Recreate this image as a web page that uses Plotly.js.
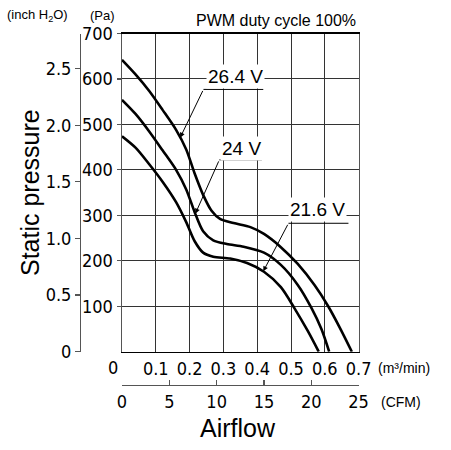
<!DOCTYPE html>
<html>
<head>
<meta charset="utf-8">
<script src="https://cdn.plot.ly/plotly-3.0.1.min.js"></script>
<style>
  html, body { margin: 0; padding: 0; background: #fff; }
  #chart { width: 451px; height: 450px; }
</style>
</head>
<body>
<div id="chart"></div>
<script>
// P-Q curves (airflow in m³/min, static pressure in Pa) at three supply voltages
const flow264 = [0, 0.04, 0.08, 0.12, 0.16, 0.19, 0.215, 0.24, 0.265, 0.29, 0.33, 0.38, 0.42, 0.47, 0.52, 0.57, 0.61, 0.645, 0.68];
const pa264   = [642, 610, 574, 532, 488, 445, 392, 345, 310, 292, 283, 274, 259, 230, 193, 146, 100, 52, 0];

const flow240 = [0, 0.04, 0.08, 0.12, 0.16, 0.19, 0.215, 0.24, 0.27, 0.31, 0.36, 0.42, 0.47, 0.52, 0.56, 0.59, 0.613];
const pa240   = [554, 523, 485, 443, 400, 357, 307, 265, 245, 237, 231, 218, 191, 147, 97, 50, 0];

const flow216 = [0, 0.04, 0.08, 0.12, 0.16, 0.19, 0.215, 0.24, 0.27, 0.32, 0.37, 0.42, 0.47, 0.51, 0.55, 0.582];
const pa216   = [474, 449, 413, 374, 329, 285, 243, 218, 209, 205, 195, 176, 142, 96, 45, 0];

const seriesNames = ['26.4 V', '24 V', '21.6 V'];
const seriesFlow = [flow264, flow240, flow216];
const seriesPa = [pa264, pa240, pa216];

// axis ticks
const paTicks = [100, 200, 300, 400, 500, 600, 700];
const inchTicks = [0, 0.5, 1.0, 1.5, 2.0, 2.5];
const inchTickText = ['0', '0.5', '1.0', '1.5', '2.0', '2.5'];
const flowTicks = [0.1, 0.2, 0.3, 0.4, 0.5, 0.6, 0.7];
const cfmTicks = [0, 5, 10, 15, 20, 25];

const PA_PER_INCH = 249.089;
const M3MIN_PER_CFM = 0.0283168;
const FLOW_MAX = 0.7, PA_MAX = 700;

// callout placement: text centre, underline (start/end flow, pressure), arrow target flow
const callouts = [
  { series: 0, tx: 0.335, ty: 605, u0: 0.241, u1: 0.418, uy: 577, tip: 0.172 },
  { series: 1, tx: 0.353, ty: 448, u0: 0.288, u1: 0.414, uy: 422, tip: 0.217 },
  { series: 2, tx: 0.579, ty: 312, u0: 0.4925, u1: 0.670, uy: 282.5, tip: 0.418 }
];

function interp(xs, ys, x) {
  for (let i = 0; i < xs.length - 1; i++) {
    if (x >= xs[i] && x <= xs[i + 1]) {
      const t = (x - xs[i]) / (xs[i + 1] - xs[i]);
      return ys[i] + t * (ys[i + 1] - ys[i]);
    }
  }
  return ys[ys.length - 1];
}

const narrow = '"DejaVu Sans Condensed", "Liberation Sans Narrow", sans-serif';
const sans = '"Liberation Sans", Arial, Helvetica, sans-serif';

// paper area: 451x450 minus 10px margins
const M = 10, PW = 431, PH = 430;
const px2x = px => (px - M) / PW;
const px2y = py => (450 - M - py) / PH;

const xDom = [px2x(122), px2x(358.6)];
const yDom = [px2y(351.7), px2y(33.5)];
const cfmMax = FLOW_MAX / M3MIN_PER_CFM;
const cfmDomEnd = xDom[0] + (xDom[1] - xDom[0]) * 25 / cfmMax;

const traces = seriesNames.map((name, i) => ({
  type: 'scatter',
  mode: 'lines',
  name: name,
  x: seriesFlow[i],
  y: seriesPa[i],
  line: { color: '#000', width: 2.6, shape: 'spline', smoothing: 0.8 },
  hoverinfo: 'skip',
  xaxis: 'x',
  yaxis: 'y'
}));

// invisible helper traces so the secondary axes get drawn
traces.push({ type: 'scatter', mode: 'markers', x: [0], y: [0], xaxis: 'x2', yaxis: 'y', marker: { opacity: 0 }, hoverinfo: 'skip', showlegend: false });
traces.push({ type: 'scatter', mode: 'markers', x: [0], y: [0], xaxis: 'x', yaxis: 'y2', marker: { opacity: 0 }, hoverinfo: 'skip', showlegend: false });

const annotations = [];
const shapes = [];

callouts.forEach(c => {
  annotations.push({
    xref: 'x', yref: 'y', x: c.tx, y: c.ty,
    text: seriesNames[c.series], showarrow: false,
    font: { family: sans, size: 19, color: '#000' },
    bgcolor: '#fff', borderpad: 1
  });
  shapes.push({
    type: 'line', xref: 'x', yref: 'y',
    x0: c.u0, x1: c.u1, y0: c.uy, y1: c.uy,
    line: { color: '#000', width: 1 }
  });
  annotations.push({
    xref: 'x', yref: 'y', axref: 'x', ayref: 'y',
    x: c.tip, y: interp(seriesFlow[c.series], seriesPa[c.series], c.tip),
    ax: c.u0, ay: c.uy,
    text: '', showarrow: true,
    arrowhead: 2, arrowsize: 1, arrowwidth: 1, arrowcolor: '#000', standoff: 0
  });
});

annotations.push(
  { xref: 'paper', yref: 'paper', x: px2x(5), y: px2y(15), xanchor: 'left', yanchor: 'middle', showarrow: false,
    text: '(inch H<sub>2</sub>O)', font: { family: sans, size: 13, color: '#000' } },
  { xref: 'paper', yref: 'paper', x: px2x(88), y: px2y(15), xanchor: 'left', yanchor: 'middle', showarrow: false,
    text: '(Pa)', font: { family: sans, size: 13, color: '#000' } },
  { xref: 'paper', yref: 'paper', x: px2x(358), y: px2y(21), xanchor: 'right', yanchor: 'middle', showarrow: false,
    text: 'PWM duty cycle 100%', font: { family: sans, size: 16, color: '#000' } },
  { xref: 'paper', yref: 'paper', x: px2x(30), y: px2y(193), xanchor: 'center', yanchor: 'middle', showarrow: false,
    text: 'Static pressure', textangle: -90, font: { family: sans, size: 25, color: '#000' } },
  { xref: 'paper', yref: 'paper', x: px2x(237.5), y: px2y(428), xanchor: 'center', yanchor: 'middle', showarrow: false,
    text: 'Airflow', font: { family: sans, size: 25, color: '#000' } },
  { xref: 'paper', yref: 'paper', x: px2x(376), y: px2y(368), xanchor: 'left', yanchor: 'middle', showarrow: false,
    text: '(m³/min)', font: { family: sans, size: 14, color: '#000' } },
  { xref: 'paper', yref: 'paper', x: px2x(379), y: px2y(402), xanchor: 'left', yanchor: 'middle', showarrow: false,
    text: '(CFM)', font: { family: sans, size: 14, color: '#000' } },
  { xref: 'paper', yref: 'paper', x: px2x(113), y: px2y(367), xanchor: 'center', yanchor: 'middle', showarrow: false,
    text: '0', font: { family: narrow, size: 18, color: '#000' } }
);

const tickFont = { family: narrow, size: 18, color: '#000' };

const layout = {
  width: 451, height: 450,
  margin: { l: M, r: M, t: M, b: M },
  paper_bgcolor: '#fff', plot_bgcolor: '#fff',
  showlegend: false,
  xaxis: {
    domain: xDom, range: [0, FLOW_MAX], anchor: 'y',
    tickvals: flowTicks, ticktext: flowTicks.map(v => v.toFixed(1)),
    ticks: '', tickfont: tickFont, ticklabelstandoff: 0,
    showgrid: true, gridcolor: '#333', gridwidth: 1,
    showline: true, linecolor: '#000', linewidth: 1.2, mirror: true,
    zeroline: false, fixedrange: true
  },
  xaxis2: {
    domain: [xDom[0], cfmDomEnd], range: [0, 25], anchor: 'free', position: px2y(385),
    overlaying: 'x', side: 'bottom',
    tickvals: cfmTicks, ticktext: cfmTicks.map(String),
    ticks: 'inside', ticklen: 5, tickcolor: '#555', tickwidth: 1.2, tickfont: tickFont,
    showgrid: false, showline: true, linecolor: '#555', linewidth: 1.2,
    zeroline: false, fixedrange: true
  },
  yaxis: {
    domain: yDom, range: [0, PA_MAX], anchor: 'x',
    tickvals: paTicks, ticktext: paTicks.map(String),
    ticks: 'outside', ticklen: 4, tickcolor: '#555', tickwidth: 1.2, tickfont: tickFont,
    showgrid: true, gridcolor: '#333', gridwidth: 1,
    showline: true, linecolor: '#555', linewidth: 1.5, mirror: true,
    zeroline: false, fixedrange: true
  },
  yaxis2: {
    domain: yDom, range: [0, PA_MAX / PA_PER_INCH], anchor: 'free', position: px2x(80),
    overlaying: 'y', side: 'left',
    tickvals: inchTicks, ticktext: inchTickText,
    ticks: 'outside', ticklen: 5, tickcolor: '#555', tickwidth: 1.2, tickfont: tickFont,
    showgrid: false, showline: true, linecolor: '#555', linewidth: 1.2,
    zeroline: false, fixedrange: true
  },
  annotations: annotations,
  shapes: shapes
};

Plotly.newPlot('chart', traces, layout, { displayModeBar: false, staticPlot: true });
</script>
</body>
</html>
